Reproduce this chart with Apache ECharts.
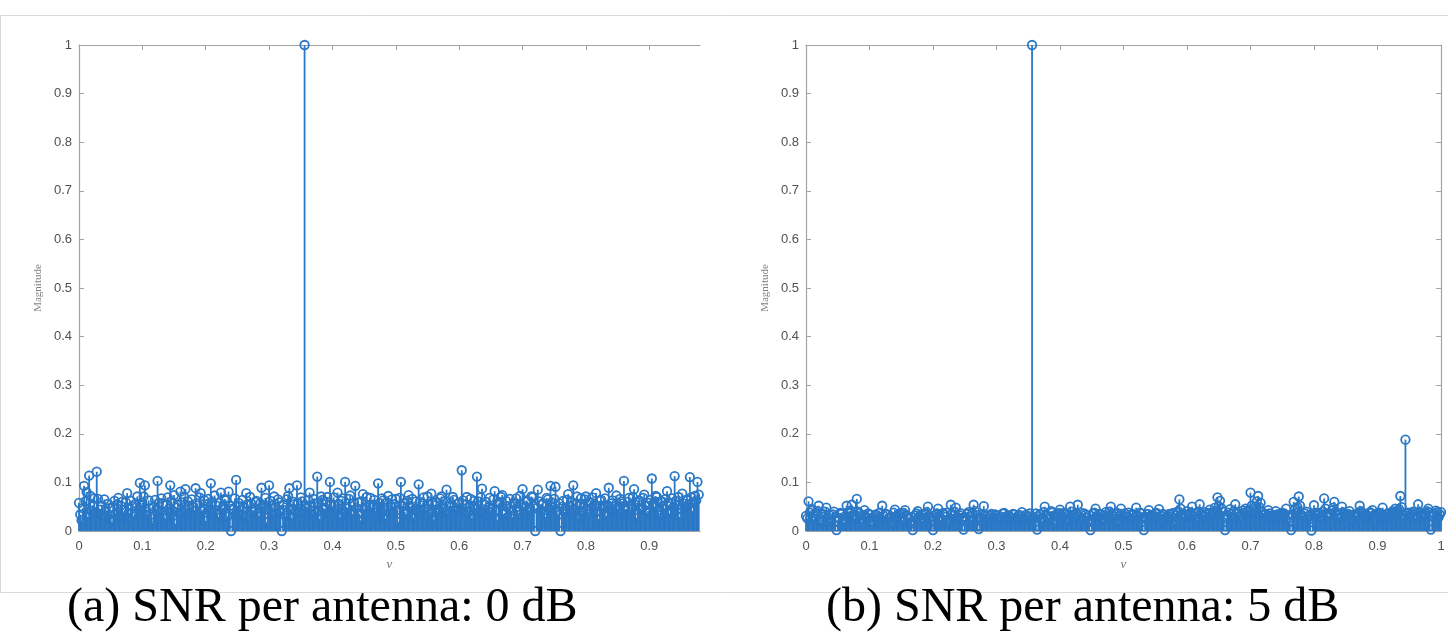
<!DOCTYPE html>
<html><head><meta charset="utf-8">
<script src="https://cdn.jsdelivr.net/npm/echarts@6/dist/echarts.min.js"></script>
<style>html,body{margin:0;padding:0;background:#fff}#c{width:1448px;height:636px}</style>
</head><body><div id="c"></div>
<script>
// frequency grid step (normalized frequency nu)
const NU_STEP = 0.002;
const xTicksA = [0, 0.1, 0.2, 0.3, 0.4, 0.5, 0.6, 0.7, 0.8, 0.9];
const xTicksB = [0, 0.1, 0.2, 0.3, 0.4, 0.5, 0.6, 0.7, 0.8, 0.9, 1];
const yTicks = [0, 0.1, 0.2, 0.3, 0.4, 0.5, 0.6, 0.7, 0.8, 0.9, 1];
const xName = 'ν';
const yName = 'Magnitude';
const captionA = '(a) SNR per antenna: 0 dB';
const captionB = '(b) SNR per antenna: 5 dB';

// (a) 0 dB magnitudes
const magA = [
0.058,0.034,0.022,0.047,0.093,0.061,0.080,0.029,0.114,0.072,0.041,0.053,0.067,0.038,0.122,0.066,0.035,0.044,0.052,0.027,
0.065,0.041,0.028,0.056,0.047,0.023,0.019,0.049,0.062,0.035,0.055,0.068,0.031,0.052,0.060,0.026,0.043,0.059,0.078,0.037,
0.024,0.062,0.051,0.030,0.036,0.057,0.071,0.044,0.099,0.053,0.058,0.071,0.094,0.040,0.033,0.063,0.046,0.028,0.017,0.050,
0.064,0.045,0.103,0.058,0.038,0.067,0.057,0.032,0.026,0.054,0.069,0.039,0.094,0.061,0.042,0.074,0.015,0.048,0.054,0.036,
0.081,0.059,0.037,0.070,0.086,0.043,0.061,0.052,0.029,0.065,0.050,0.031,0.088,0.057,0.034,0.069,0.078,0.041,0.045,0.063,
0.021,0.055,0.066,0.042,0.098,0.060,0.039,0.073,0.053,0.036,0.027,0.058,0.079,0.047,0.048,0.066,0.063,0.030,0.081,0.052,
0.000,0.046,0.044,0.067,0.105,0.038,0.058,0.051,0.032,0.064,0.049,0.029,0.078,0.055,0.023,0.070,0.056,0.043,0.040,0.060,
0.062,0.037,0.030,0.057,0.089,0.049,0.047,0.068,0.018,0.044,0.094,0.062,0.052,0.033,0.071,0.050,0.036,0.065,0.059,0.042,
0.000,0.054,0.043,0.031,0.065,0.072,0.088,0.046,0.027,0.060,0.055,0.040,0.094,0.057,0.039,0.069,0.061,0.035,1.000,0.052,
0.048,0.063,0.079,0.041,0.033,0.066,0.057,0.038,0.112,0.058,0.025,0.071,0.064,0.047,0.045,0.060,0.070,0.034,0.101,0.055,
0.038,0.069,0.053,0.044,0.079,0.056,0.029,0.062,0.067,0.039,0.101,0.050,0.046,0.066,0.073,0.041,0.034,0.058,0.093,0.047,
0.059,0.036,0.022,0.061,0.076,0.045,0.049,0.070,0.037,0.053,0.068,0.032,0.054,0.064,0.031,0.048,0.098,0.057,0.044,0.067,
0.063,0.048,0.026,0.059,0.072,0.037,0.051,0.065,0.040,0.055,0.066,0.043,0.019,0.068,0.101,0.052,0.057,0.040,0.035,0.062,
0.074,0.051,0.048,0.066,0.028,0.044,0.061,0.039,0.096,0.060,0.042,0.057,0.069,0.046,0.033,0.071,0.055,0.035,0.077,0.058,
0.024,0.053,0.060,0.041,0.046,0.067,0.071,0.049,0.038,0.062,0.085,0.036,0.052,0.058,0.030,0.070,0.064,0.045,0.043,0.056,
0.058,0.044,0.125,0.063,0.036,0.055,0.070,0.038,0.049,0.066,0.027,0.052,0.062,0.047,0.112,0.061,0.041,0.069,0.087,0.034,
0.054,0.060,0.032,0.048,0.068,0.039,0.045,0.065,0.082,0.043,0.023,0.057,0.059,0.070,0.074,0.035,0.037,0.062,0.051,0.046,
0.066,0.042,0.029,0.058,0.056,0.067,0.043,0.033,0.072,0.054,0.086,0.049,0.035,0.063,0.061,0.040,0.047,0.071,0.069,0.052,
0.000,0.047,0.085,0.061,0.040,0.054,0.057,0.036,0.026,0.068,0.065,0.045,0.093,0.059,0.050,0.066,0.091,0.041,0.033,0.057,
0.000,0.050,0.062,0.039,0.044,0.064,0.076,0.052,0.038,0.060,0.094,0.043,0.055,0.071,0.028,0.056,0.067,0.037,0.048,0.065,
0.071,0.046,0.035,0.058,0.059,0.069,0.042,0.055,0.078,0.040,0.025,0.062,0.064,0.048,0.052,0.067,0.031,0.053,0.089,0.044,
0.057,0.063,0.039,0.051,0.073,0.042,0.046,0.066,0.061,0.057,0.103,0.045,0.034,0.060,0.068,0.038,0.050,0.070,0.086,0.054,
0.027,0.059,0.063,0.047,0.044,0.068,0.075,0.053,0.038,0.041,0.058,0.064,0.108,0.056,0.049,0.072,0.070,0.043,0.032,0.061,
0.061,0.052,0.045,0.066,0.082,0.040,0.036,0.058,0.067,0.049,0.113,0.062,0.053,0.070,0.029,0.045,0.077,0.057,0.048,0.064,
0.064,0.055,0.111,0.069,0.041,0.058,0.072,0.063,0.101,0.075
];

// (b) 5 dB magnitudes
const magB = [
0.031,0.026,0.061,0.038,0.042,0.045,0.024,0.030,0.036,0.041,0.052,0.022,0.018,0.035,0.029,0.040,0.048,0.027,0.033,0.019,
0.021,0.034,0.040,0.028,0.002,0.020,0.027,0.037,0.035,0.024,0.015,0.031,0.052,0.039,0.030,0.042,0.054,0.029,0.023,0.033,
0.066,0.040,0.037,0.025,0.019,0.032,0.043,0.029,0.028,0.036,0.034,0.021,0.012,0.027,0.031,0.034,0.025,0.030,0.038,0.023,
0.052,0.031,0.020,0.035,0.033,0.026,0.027,0.030,0.016,0.038,0.044,0.024,0.029,0.033,0.036,0.028,0.022,0.037,0.043,0.032,
0.030,0.025,0.014,0.029,0.002,0.021,0.032,0.036,0.041,0.030,0.026,0.034,0.019,0.027,0.035,0.039,0.050,0.031,0.028,0.022,
0.002,0.028,0.033,0.036,0.046,0.030,0.021,0.024,0.037,0.033,0.029,0.038,0.017,0.026,0.054,0.035,0.031,0.040,0.048,0.029,
0.024,0.032,0.036,0.027,0.003,0.023,0.028,0.035,0.039,0.030,0.020,0.037,0.054,0.041,0.033,0.025,0.004,0.029,0.026,0.034,
0.051,0.033,0.030,0.026,0.018,0.031,0.035,0.024,0.027,0.034,0.032,0.028,0.022,0.030,0.029,0.036,0.037,0.027,0.025,0.032,
0.031,0.028,0.019,0.035,0.034,0.025,0.027,0.031,0.033,0.029,0.039,0.026,0.023,0.033,0.030,0.024,0.036,0.030,1.000,0.027,
0.028,0.036,0.003,0.030,0.034,0.025,0.021,0.039,0.050,0.032,0.031,0.027,0.026,0.041,0.038,0.029,0.017,0.034,0.033,0.037,
0.044,0.031,0.029,0.037,0.035,0.026,0.022,0.033,0.050,0.040,0.031,0.028,0.027,0.035,0.054,0.030,0.038,0.025,0.024,0.036,
0.033,0.027,0.019,0.032,0.002,0.024,0.036,0.038,0.046,0.030,0.028,0.035,0.034,0.026,0.021,0.033,0.039,0.029,0.030,0.040,
0.050,0.034,0.025,0.029,0.035,0.037,0.018,0.031,0.046,0.026,0.032,0.036,0.027,0.030,0.038,0.024,0.022,0.035,0.033,0.028,
0.048,0.032,0.029,0.038,0.036,0.027,0.002,0.030,0.024,0.035,0.043,0.029,0.031,0.033,0.027,0.036,0.037,0.028,0.045,0.031,
0.020,0.035,0.033,0.027,0.028,0.031,0.035,0.024,0.030,0.037,0.016,0.032,0.038,0.041,0.065,0.046,0.034,0.029,0.026,0.034,
0.041,0.033,0.029,0.038,0.050,0.030,0.036,0.027,0.023,0.040,0.055,0.036,0.031,0.029,0.039,0.034,0.027,0.037,0.044,0.031,
0.034,0.039,0.048,0.042,0.069,0.051,0.062,0.047,0.040,0.030,0.002,0.026,0.033,0.038,0.045,0.035,0.028,0.041,0.055,0.036,
0.036,0.030,0.024,0.033,0.042,0.037,0.046,0.040,0.031,0.044,0.079,0.052,0.038,0.043,0.050,0.061,0.072,0.049,0.058,0.039,
0.027,0.033,0.035,0.029,0.043,0.036,0.021,0.031,0.032,0.027,0.041,0.034,0.026,0.030,0.036,0.038,0.030,0.035,0.046,0.032,
0.019,0.028,0.002,0.034,0.060,0.045,0.038,0.049,0.071,0.052,0.033,0.031,0.028,0.036,0.040,0.029,0.024,0.033,0.001,0.030,
0.053,0.037,0.031,0.034,0.037,0.029,0.026,0.040,0.067,0.046,0.035,0.032,0.029,0.036,0.042,0.048,0.060,0.039,0.033,0.027,
0.025,0.036,0.050,0.039,0.036,0.031,0.030,0.035,0.041,0.028,0.022,0.033,0.034,0.030,0.028,0.038,0.052,0.041,0.037,0.029,
0.031,0.034,0.026,0.030,0.039,0.037,0.043,0.032,0.020,0.029,0.035,0.038,0.030,0.035,0.048,0.031,0.024,0.033,0.036,0.036,
0.029,0.035,0.041,0.038,0.046,0.040,0.033,0.045,0.072,0.049,0.027,0.033,0.188,0.036,0.038,0.030,0.032,0.037,0.040,0.034,
0.026,0.031,0.055,0.040,0.035,0.033,0.029,0.036,0.037,0.041,0.046,0.038,0.003,0.030,0.031,0.035,0.042,0.039,0.028,0.034,
0.039
];

const BLUE = '#2a78c6';
const AX = '#a3a3a3';
const LB = '#505050';
const FONT = '"Liberation Sans", Arial, Helvetica, sans-serif';

const toPairs = arr => arr.map((v, i) => [Math.round(i * NU_STEP * 1000) / 1000, v]);
const dataA = toPairs(magA);
const dataB = toPairs(magB);

function stemRender(params, api) {
  const top = api.coord([api.value(0), api.value(1)]);
  const base = api.coord([api.value(0), 0]);
  return { type: 'line', shape: { x1: top[0], y1: top[1], x2: base[0], y2: base[1] },
           style: { stroke: BLUE, lineWidth: 1.8 } };
}

function bottomX(gi, max, ticks) {
  return { gridIndex: gi, type: 'value', min: 0, max: max, position: 'bottom',
    axisLine: { onZero: false, lineStyle: { color: AX, width: 1.2 } },
    axisTick: { inside: true, length: 5, customValues: ticks, lineStyle: { color: AX } },
    axisLabel: { customValues: ticks, color: LB, fontSize: 13, margin: 9, fontFamily: FONT },
    splitLine: { show: false },
    name: xName, nameLocation: 'middle', nameGap: 24,
    nameTextStyle: { fontFamily: '"Liberation Serif", "DejaVu Serif", serif', fontStyle: 'italic', fontSize: 13, color: '#777' } };
}
function topX(gi, max, ticks) {
  return { gridIndex: gi, type: 'value', min: 0, max: max, position: 'top',
    axisLine: { onZero: false, lineStyle: { color: AX, width: 1.2 } },
    axisTick: { inside: true, length: 5, customValues: ticks, lineStyle: { color: AX } },
    axisLabel: { show: false }, splitLine: { show: false } };
}
function leftY(gi) {
  return { gridIndex: gi, type: 'value', min: 0, max: 1, position: 'left',
    axisLine: { show: true, onZero: false, lineStyle: { color: AX, width: 1.2 } },
    axisTick: { show: true, inside: true, length: 5, customValues: yTicks, lineStyle: { color: AX } },
    axisLabel: { customValues: yTicks, color: LB, fontSize: 13, margin: 7, fontFamily: FONT },
    splitLine: { show: false },
    name: yName, nameLocation: 'middle', nameGap: 35, nameRotate: 90,
    nameTextStyle: { fontFamily: '"Liberation Serif", "DejaVu Serif", serif', fontSize: 11, color: '#808080' } };
}

const chart = echarts.init(document.getElementById('c'), null, { renderer: 'canvas' });
chart.setOption({
  animation: false,
  backgroundColor: '#fff',
  grid: [
    { left: 79, top: 45, width: 621, height: 486 },
    { left: 806, top: 45, width: 635, height: 486 }
  ],
  xAxis: [ bottomX(0, 0.98, xTicksA), topX(0, 0.98, xTicksA), bottomX(1, 1, xTicksB), topX(1, 1, xTicksB) ],
  yAxis: [ leftY(0), leftY(1),
    { gridIndex: 1, type: 'value', min: 0, max: 1, position: 'right',
      axisLine: { show: true, onZero: false, lineStyle: { color: AX, width: 1.2 } },
      axisTick: { show: true, inside: true, length: 5, customValues: yTicks, lineStyle: { color: AX } },
      axisLabel: { show: false }, splitLine: { show: false } } ],
  series: [
    { type: 'custom', xAxisIndex: 0, yAxisIndex: 0, data: dataA, renderItem: stemRender, silent: true },
    { type: 'scatter', xAxisIndex: 0, yAxisIndex: 0, data: dataA, symbol: 'circle', symbolSize: 8.5,
      itemStyle: { color: 'rgba(0,0,0,0)', borderColor: BLUE, borderWidth: 1.8, opacity: 1 }, silent: true },
    { type: 'custom', xAxisIndex: 2, yAxisIndex: 1, data: dataB, renderItem: stemRender, silent: true },
    { type: 'scatter', xAxisIndex: 2, yAxisIndex: 1, data: dataB, symbol: 'circle', symbolSize: 8.5,
      itemStyle: { color: 'rgba(0,0,0,0)', borderColor: BLUE, borderWidth: 1.8, opacity: 1 }, silent: true }
  ],
  graphic: [
    { type: 'polyline', silent: true, shape: { points: [[1448, 15.5], [0.5, 15.5], [0.5, 592.5], [1448, 592.5]] },
      style: { stroke: '#d9d9d9', lineWidth: 1, fill: null } },
    { type: 'text', left: 67, top: 584, silent: true,
      style: { text: captionA, font: '48px "Liberation Serif", "Times New Roman", serif', fill: '#000' } },
    { type: 'text', left: 826, top: 584, silent: true,
      style: { text: captionB, font: '48px "Liberation Serif", "Times New Roman", serif', fill: '#000' } }
  ]
});
</script>
</body></html>
